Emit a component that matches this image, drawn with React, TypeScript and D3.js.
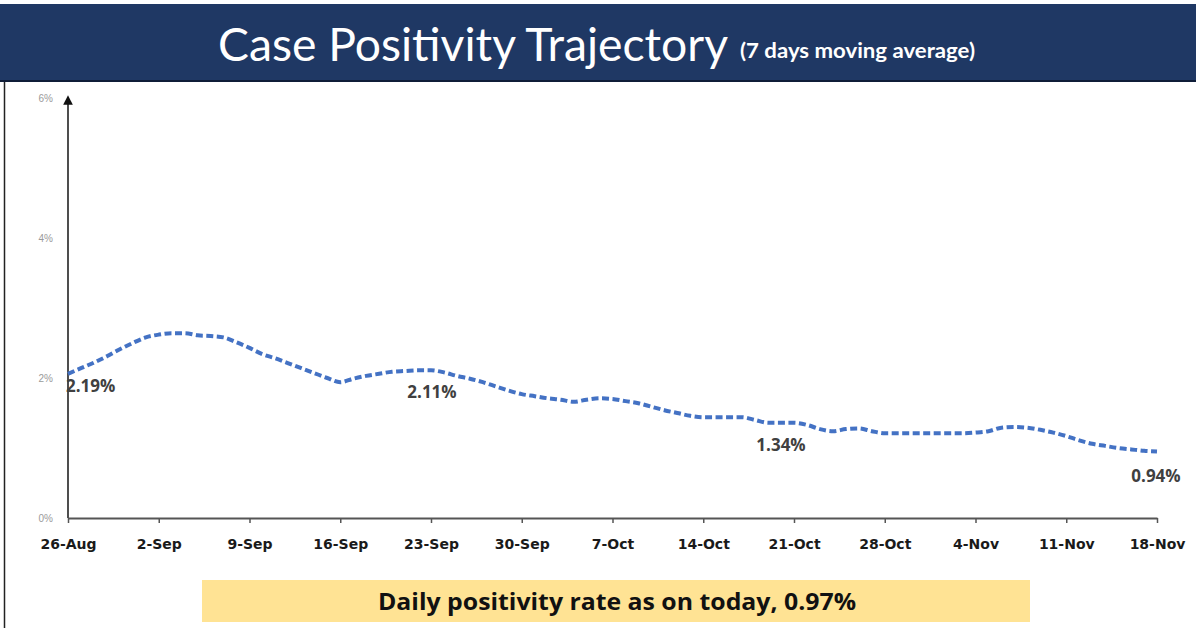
import { useEffect, useRef } from "react";
import * as d3 from "d3";

// data: 7-day moving average positivity (%) from 26-Aug to 18-Nov, one value per day
const startDate = new Date(2020, 7, 26);
const positivity = [
  2.06, 2.14, 2.22, 2.31, 2.41, 2.5, 2.58, 2.62, 2.64, 2.64, 2.61, 2.6, 2.58,
  2.51, 2.43, 2.34, 2.28, 2.21, 2.14, 2.07, 2.0, 1.94, 1.99, 2.03, 2.06, 2.09,
  2.1, 2.11, 2.11, 2.08, 2.03, 1.99, 1.94, 1.88, 1.82, 1.77, 1.74, 1.71, 1.69,
  1.66, 1.69, 1.71, 1.7, 1.67, 1.64, 1.59, 1.54, 1.5, 1.46, 1.44, 1.44, 1.44,
  1.44, 1.4, 1.36, 1.36, 1.36, 1.33, 1.27, 1.24, 1.27, 1.28, 1.24, 1.21, 1.21,
  1.21, 1.21, 1.21, 1.21, 1.21, 1.22, 1.24, 1.29, 1.3, 1.29, 1.26, 1.22, 1.17,
  1.11, 1.06, 1.03, 1.0, 0.98, 0.96, 0.95,
];
const xTickLabels = [
  "26-Aug", "2-Sep", "9-Sep", "16-Sep", "23-Sep", "30-Sep", "7-Oct",
  "14-Oct", "21-Oct", "28-Oct", "4-Nov", "11-Nov", "18-Nov",
];
const yTicks = [0, 2, 4, 6];
// callouts: day index, label
const callouts = [
  { day: 0, label: "2.19%" },
  { day: 28, label: "2.11%" },
  { day: 55, label: "1.34%" },
  { day: 84, label: "0.94%" },
];
const title = "Case Positivity Trajectory";
const subtitle = "(7 days moving average)";
const footer = "Daily positivity rate as on today, 0.97%";

export default function App() {
  const ref = useRef<SVGSVGElement>(null);

  useEffect(() => {
    document.body.style.margin = "0";
    if (!ref.current) return;
    const svg = d3.select(ref.current);
    svg.selectAll("*").remove();

    const W = 1196;
    const H = 628;
    svg.attr("width", W).attr("height", H).attr("viewBox", `0 0 ${W} ${H}`);

    const data = positivity.map((v, i) => ({
      date: d3.timeDay.offset(startDate, i),
      value: v,
    }));

    const x = d3
      .scaleTime()
      .domain([startDate, d3.timeDay.offset(startDate, 84)])
      .range([68, 1157]);
    const y = d3.scaleLinear().domain([0, 6]).range([518, 98]);

    svg.append("rect").attr("width", W).attr("height", H).attr("fill", "#fff");

    // header band
    svg
      .append("rect")
      .attr("x", 0)
      .attr("y", 4)
      .attr("width", W)
      .attr("height", 77)
      .attr("fill", "#1f3864");
    svg
      .append("line")
      .attr("x1", 0)
      .attr("x2", W)
      .attr("y1", 81)
      .attr("y2", 81)
      .attr("stroke", "#0f1d38")
      .attr("stroke-width", 2);
    svg
      .append("text")
      .attr("x", 218)
      .attr("y", 61)
      .attr("fill", "#fff")
      .attr("font-family", "Lato, 'Open Sans', sans-serif")
      .attr("font-size", 46)
      .attr("textLength", 510)
      .attr("lengthAdjust", "spacingAndGlyphs")
      .text(title);
    svg
      .append("text")
      .attr("x", 740)
      .attr("y", 58)
      .attr("fill", "#fff")
      .attr("font-family", "Lato, 'Open Sans', sans-serif")
      .attr("font-weight", 700)
      .attr("font-size", 20)
      .attr("textLength", 235)
      .attr("lengthAdjust", "spacingAndGlyphs")
      .text(subtitle);

    // left frame line
    svg
      .append("line")
      .attr("x1", 4.5)
      .attr("x2", 4.5)
      .attr("y1", 82)
      .attr("y2", H)
      .attr("stroke", "#222")
      .attr("stroke-width", 1.5);

    // y axis with arrow
    svg
      .append("defs")
      .append("marker")
      .attr("id", "arrow")
      .attr("viewBox", "0 0 10 10")
      .attr("refX", 5)
      .attr("refY", 5)
      .attr("markerWidth", 6)
      .attr("markerHeight", 6)
      .attr("orient", "auto-start-reverse")
      .append("path")
      .attr("d", "M0,0L10,5L0,10z")
      .attr("fill", "#111");
    svg
      .append("line")
      .attr("x1", x(startDate))
      .attr("x2", x(startDate))
      .attr("y1", y(0))
      .attr("y2", y(6) + 2)
      .attr("stroke", "#222")
      .attr("stroke-width", 1.6)
      .attr("marker-end", "url(#arrow)");

    svg
      .append("g")
      .selectAll("text")
      .data(yTicks)
      .join("text")
      .attr("x", 53)
      .attr("y", (d) => y(d))
      .attr("text-anchor", "end")
      .attr("dominant-baseline", "central")
      .attr("font-family", "'Liberation Sans', Arial, sans-serif")
      .attr("font-size", 10)
      .attr("fill", "#9a9a9a")
      .text((d) => `${d}%`);

    // x axis
    const tickDates = xTickLabels.map((_, i) => d3.timeDay.offset(startDate, i * 7));
    svg
      .append("g")
      .attr("transform", `translate(0,${y(0)})`)
      .call(
        d3
          .axisBottom(x)
          .tickValues(tickDates)
          .tickSize(5)
          .tickSizeOuter(0)
          .tickFormat((_, i) => xTickLabels[i]),
      )
      .call((a) => {
        a.select(".domain").attr("stroke", "#555").attr("stroke-width", 2);
        a.selectAll("line").attr("stroke", "#555").attr("stroke-width", 1.5);
        a.selectAll("text")
          .attr("dy", 0)
          .attr("y", 31)
          .attr("font-family", "'DejaVu Sans', Verdana, sans-serif")
          .attr("font-weight", 700)
          .attr("font-size", 14)
          .attr("fill", "#1a1a1a");
      });

    // series line
    const line = d3
      .line<{ date: Date; value: number }>()
      .x((d) => x(d.date))
      .y((d) => y(d.value))
      .curve(d3.curveMonotoneX);
    svg
      .append("path")
      .datum(data)
      .attr("d", line)
      .attr("fill", "none")
      .attr("stroke", "#4472c4")
      .attr("stroke-width", 4)
      .attr("stroke-dasharray", "7 3.5");

    // callout labels
    const offsets: Record<number, [number, number, string]> = {
      0: [-2, 18, "start"],
      28: [1, 28, "middle"],
      55: [0, 28, "middle"],
      84: [-1, 30, "middle"],
    };
    callouts.forEach(({ day, label }) => {
      const [dx, dy, anchor] = offsets[day];
      svg
        .append("text")
        .attr("x", x(data[day].date) + dx)
        .attr("y", y(data[day].value) + dy)
        .attr("text-anchor", anchor)
        .attr("font-family", "'Open Sans', sans-serif")
        .attr("font-weight", 700)
        .attr("font-size", 17)
        .attr("fill", "#404040")
        .text(label);
    });

    // footer box
    svg
      .append("rect")
      .attr("x", 202)
      .attr("y", 580)
      .attr("width", 828)
      .attr("height", 42)
      .attr("fill", "#ffe394");
    svg
      .append("text")
      .attr("x", 617)
      .attr("y", 610)
      .attr("text-anchor", "middle")
      .attr("font-family", "'Open Sans', sans-serif")
      .attr("font-weight", 700)
      .attr("font-size", 23)
      .attr("textLength", 478)
      .attr("lengthAdjust", "spacingAndGlyphs")
      .attr("fill", "#111")
      .text(footer);
  }, []);

  return (
    <div style={{ position: "absolute", left: 0, top: 0 }}>
      <svg ref={ref} style={{ display: "block" }} />
    </div>
  );
}
